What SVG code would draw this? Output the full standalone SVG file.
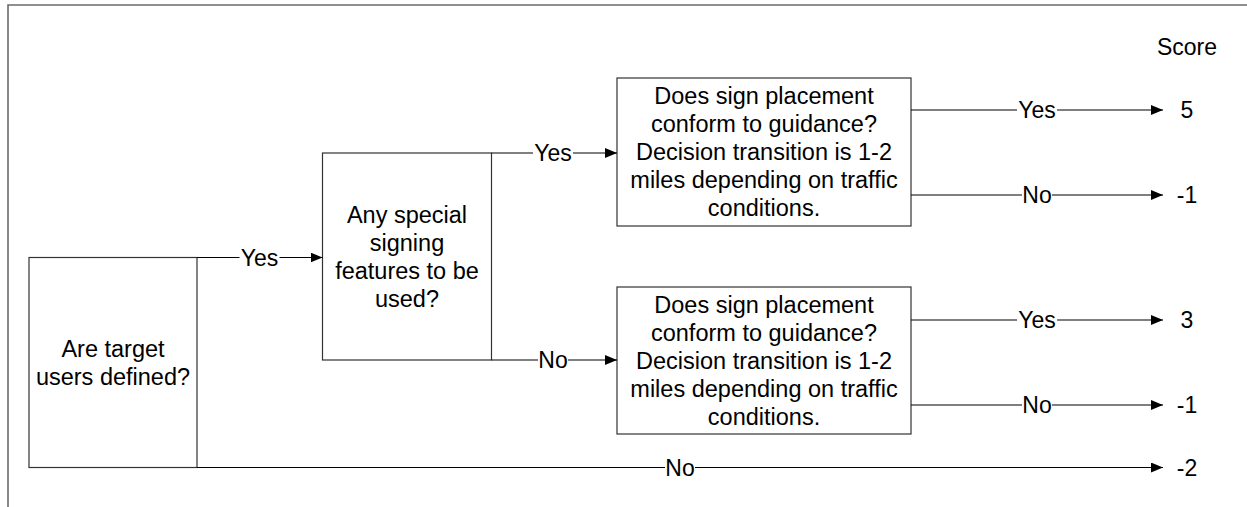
<svg xmlns="http://www.w3.org/2000/svg" width="1247" height="507" viewBox="0 0 1247 507">
  <style>
    text { font-family: "Liberation Sans", Arial, sans-serif; font-size: 23px; fill: #000; }
    .c { text-anchor: middle; }
    .node text { font-size: 23.5px; }
    .box { fill: #fff; stroke: #333; stroke-width: 1.2; }
    .wire { stroke: #000; stroke-width: 1.2; fill: none; }
    .arr { stroke: #000; stroke-width: 1.2; fill: none; marker-end: url(#head); }
    .frame { stroke: #6b6b6b; stroke-width: 1.6; fill: none; }
  </style>
  <defs>
    <marker id="head" markerUnits="userSpaceOnUse" markerWidth="12" markerHeight="10" refX="12" refY="5" orient="auto">
      <path d="M0,0 L12,5 L0,10 Z" fill="#000"/>
    </marker>
  </defs>

  <rect width="1247" height="507" fill="#fff"/>

  <!-- page frame -->
  <path class="frame" d="M8,507 V5 H1247"/>

  <text class="c" x="1187" y="55">Score</text>

  <!-- decision 1 -->
  <g id="target-users" class="node">
    <rect class="box" x="29" y="257.5" width="168" height="210"/>
    <text class="c" x="113" y="356.5">Are target</text>
    <text class="c" x="113" y="384.5">users defined?</text>
  </g>

  <!-- decision 2 -->
  <g id="special-features" class="node">
    <rect class="box" x="322.5" y="153" width="169" height="207"/>
    <text class="c" x="407" y="222.5">Any special</text>
    <text class="c" x="407" y="250.5">signing</text>
    <text class="c" x="407" y="278.5">features to be</text>
    <text class="c" x="407" y="306.5">used?</text>
  </g>

  <!-- placement check, special features -->
  <g id="placement-special" class="node">
    <rect class="box" x="617" y="78" width="294" height="148"/>
    <text class="c" x="764" y="104">Does sign placement</text>
    <text class="c" x="764" y="132">conform to guidance?</text>
    <text class="c" x="764" y="160">Decision transition is 1-2</text>
    <text class="c" x="764" y="188">miles depending on traffic</text>
    <text class="c" x="764" y="216">conditions.</text>
  </g>

  <!-- placement check, standard signing -->
  <g id="placement-standard" class="node">
    <rect class="box" x="617" y="287" width="294" height="147"/>
    <text class="c" x="764" y="312.5">Does sign placement</text>
    <text class="c" x="764" y="340.5">conform to guidance?</text>
    <text class="c" x="764" y="368.5">Decision transition is 1-2</text>
    <text class="c" x="764" y="396.5">miles depending on traffic</text>
    <text class="c" x="764" y="424.5">conditions.</text>
  </g>

  <!-- score values -->
  <g id="scores">
    <text class="c" x="1187" y="118">5</text>
    <text class="c" x="1187" y="203">-1</text>
    <text class="c" x="1187" y="328">3</text>
    <text class="c" x="1187" y="413">-1</text>
    <text class="c" x="1187" y="476">-2</text>
  </g>

  <!-- connectors with their labels -->
  <g id="connectors">
    <!-- targets defined: yes -->
    <path class="wire" d="M197,257.5 H239.5"/>
    <path class="arr" d="M279.5,257.5 H322.5"/>
    <text class="c" x="259.5" y="265.5">Yes</text>
    <!-- targets defined: no -->
    <path class="wire" d="M197,467.5 H665"/>
    <path class="arr" d="M695,467.5 H1163"/>
    <text class="c" x="680" y="475.5">No</text>

    <!-- special features: yes -->
    <path class="wire" d="M491.5,153 H533"/>
    <path class="arr" d="M573,153 H617"/>
    <text class="c" x="553" y="161">Yes</text>
    <!-- special features: no -->
    <path class="wire" d="M491.5,360 H538"/>
    <path class="arr" d="M568,360 H617"/>
    <text class="c" x="553" y="368">No</text>

    <!-- upper placement -->
    <path class="wire" d="M911,110 H1017"/>
    <path class="arr" d="M1057,110 H1163"/>
    <text class="c" x="1037" y="118">Yes</text>
    <path class="wire" d="M911,195 H1022"/>
    <path class="arr" d="M1052,195 H1163"/>
    <text class="c" x="1037" y="203">No</text>

    <!-- lower placement -->
    <path class="wire" d="M911,320 H1017"/>
    <path class="arr" d="M1057,320 H1163"/>
    <text class="c" x="1037" y="328">Yes</text>
    <path class="wire" d="M911,405 H1022"/>
    <path class="arr" d="M1052,405 H1163"/>
    <text class="c" x="1037" y="413">No</text>
  </g>
</svg>
